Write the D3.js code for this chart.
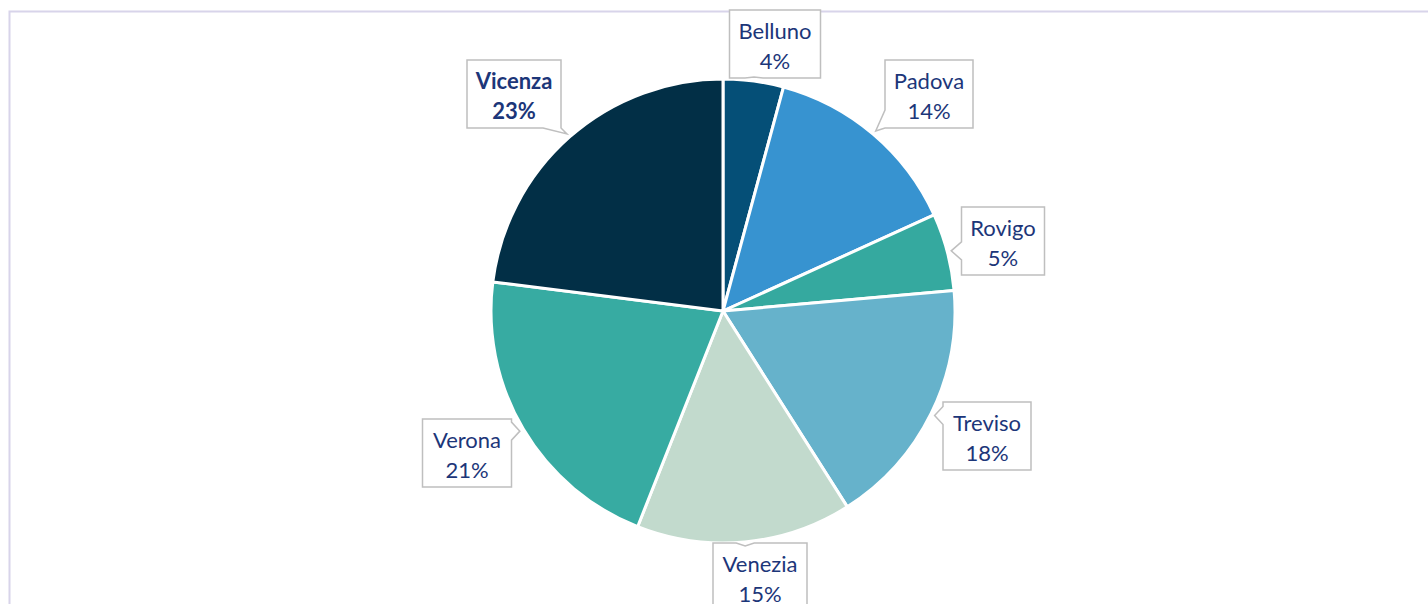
<!DOCTYPE html>
<html>
<head>
<meta charset="utf-8">
<script src="https://cdn.jsdelivr.net/npm/d3@7"></script>
<style>
  html, body { margin: 0; padding: 0; background: #fff; }
  text { font-family: Lato, "Open Sans", sans-serif; }
</style>
</head>
<body>
<div id="chart"></div>
<script>
// province share (labels show rounded values)
const provinces = ["Belluno", "Padova", "Rovigo", "Treviso", "Venezia", "Verona", "Vicenza"];
const shares = [4.2, 14.0, 5.4, 17.4, 15.0, 21.0, 23.0];
const pctLabels = ["4%", "14%", "5%", "18%", "15%", "21%", "23%"];
const colors = ["#054f77", "#3793d0", "#35a99f", "#66b2cb", "#c2dacd", "#37aba2", "#022f46"];

// callout box layout: centre offset from pie centre and width
const boxDx = [52, 206, 280, 264, 37, -256, -209];
const boxDy = [-267, -217, -70, 125, 266, 142, -217];
const boxW = [91, 88, 83, 88, 94, 89, 94];
const boxH = 68;

const W = 1428, H = 604;
const cx = 723, cy = 311, radius = 232;

const svg = d3.select("#chart").append("svg")
    .attr("width", W)
    .attr("height", H);

// chart area border
svg.append("rect")
    .attr("x", 9.5).attr("y", 11.5)
    .attr("width", W + 20).attr("height", H + 20)
    .attr("fill", "none")
    .attr("stroke", "#d8d4ea")
    .attr("stroke-width", 2);

const data = provinces.map((p, i) => ({ name: p, value: shares[i], pct: pctLabels[i], i: i }));

const pie = d3.pie().sort(null).value(d => d.value);
const arc = d3.arc().innerRadius(0).outerRadius(radius);
const tipArc = d3.arc().innerRadius(radius + 4).outerRadius(radius + 4);

const g = svg.append("g").attr("transform", `translate(${cx},${cy})`);
const arcs = pie(data);

g.selectAll("path.slice")
    .data(arcs)
    .enter().append("path")
    .attr("class", "slice")
    .attr("d", arc)
    .attr("fill", d => colors[d.data.i])
    .attr("stroke", "#fff")
    .attr("stroke-width", 3)
    .attr("stroke-linejoin", "round");

// build a callout outline with a notch pointing at tip (tx, ty)
function calloutPath(x0, y0, w, h, tx, ty) {
    const x1 = x0 + w, y1 = y0 + h;
    const pts = [];
    const n = 9; // notch half width
    // pick edge facing the tip
    const ccx = x0 + w / 2, ccy = y0 + h / 2;
    const dx = tx - ccx, dy = ty - ccy;
    let edge;
    if (tx >= x0 && tx <= x1) edge = ty > ccy ? "bottom" : "top";
    else if (ty >= y0 && ty <= y1) edge = tx > ccx ? "right" : "left";
    else edge = Math.abs(dx) / w > Math.abs(dy) / h ? (dx > 0 ? "right" : "left") : (dy > 0 ? "bottom" : "top");
    const clampX = v => Math.max(x0 + n, Math.min(x1 - n, v));
    const clampY = v => Math.max(y0 + n, Math.min(y1 - n, v));
    pts.push([x0, y0]);
    if (edge === "top") { const b = clampX(tx); pts.push([b - n, y0], [tx, ty], [b + n, y0]); }
    pts.push([x1, y0]);
    if (edge === "right") { const b = clampY(ty); pts.push([x1, b - n], [tx, ty], [x1, b + n]); }
    pts.push([x1, y1]);
    if (edge === "bottom") { const b = clampX(tx); pts.push([b + n, y1], [tx, ty], [b - n, y1]); }
    pts.push([x0, y1]);
    if (edge === "left") { const b = clampY(ty); pts.push([x0, b + n], [tx, ty], [x0, b - n]); }
    return "M" + pts.map(p => p.join(",")).join("L") + "Z";
}

const labels = g.selectAll("g.label")
    .data(arcs)
    .enter().append("g")
    .attr("class", "label");

labels.append("path")
    .attr("d", d => {
        const i = d.data.i;
        const [tx, ty] = tipArc.centroid(d);
        const x0 = boxDx[i] - boxW[i] / 2, y0 = boxDy[i] - boxH / 2;
        return calloutPath(x0, y0, boxW[i], boxH, tx, ty);
    })
    .attr("fill", "#fff")
    .attr("stroke", "#bfbfbf")
    .attr("stroke-width", 1.5);

labels.append("text")
    .attr("text-anchor", "middle")
    .attr("fill", "#1c3679")
    .attr("font-size", 22)
    .attr("font-weight", d => d.data.name === "Vicenza" ? "bold" : "normal")
    .each(function (d) {
        const i = d.data.i;
        const t = d3.select(this);
        t.append("tspan").attr("x", boxDx[i]).attr("y", boxDy[i] - 5).text(d.data.name);
        t.append("tspan").attr("x", boxDx[i]).attr("y", boxDy[i] + 25).text(d.data.pct);
    });
</script>
</body>
</html>
